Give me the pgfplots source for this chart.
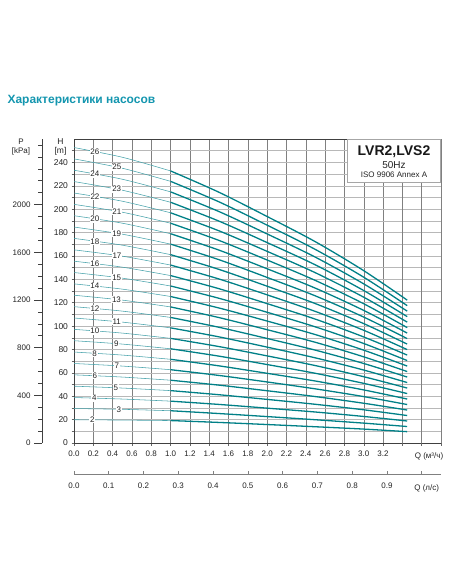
\documentclass[border=0pt]{standalone}
\usepackage{fontspec}
\setmainfont{Liberation Sans}
\usepackage{pgfplots}
\pgfplotsset{compat=1.18}
\usepackage{pgfplotstable}

\definecolor{titlecol}{RGB}{20,150,175}
\definecolor{curve}{RGB}{0,128,135}
\definecolor{curvethin}{RGB}{70,162,170}
\definecolor{txt}{RGB}{35,35,35}
\newcommand\fs[1]{\fontsize{#1}{#1}\selectfont}

% H [m] for each number of stages
\pgfplotstableread{
Q    s2   s3   s4   s5   s6   s7   s8   s9   s10   s11   s12   s13   s14   s15   s16   s17   s18   s19   s20   s21   s22   s23   s24   s25   s26
0    19.9 29.5 38.9 48.6 58.3 68.0 77.8 87.5 97.2  106.9 116.6 126.4 136.1 145.8 155.5 165.2 175.0 184.7 194.4 204.1 213.8 223.6 233.3 243.0 252.7
0.5  19.6 28.8 37.6 47.0 56.4 65.8 75.2 84.6 94.0  103.4 112.8 122.2 131.6 141.0 150.4 159.8 169.2 178.6 188.0 197.4 206.8 216.2 225.6 235.0 244.4
1.0  19.2 27.6 35.8 44.8 53.7 62.7 71.6 80.6 89.5  98.5  107.4 116.4 125.3 134.3 143.2 152.2 161.1 170.1 179.0 188.0 196.9 205.9 214.8 223.8 232.7
1.5  17.6 25.2 33.0 41.3 49.5 57.8 66.0 74.3 82.5  90.8  99.0  107.3 115.5 123.8 132.0 140.3 148.5 156.8 165.0 173.3 181.5 189.8 198.0 206.3 214.5
2.0  15.8 22.6 29.8 37.3 44.7 52.2 59.6 67.1 74.5  82.0  89.4  96.9  104.3 111.8 119.2 126.7 134.1 141.6 149.0 156.5 163.9 171.4 178.8 186.3 193.7
2.5  13.9 19.9 26.5 33.1 39.7 46.3 53.0 59.6 66.2  72.8  79.4  86.1  92.7  99.3  105.9 112.5 119.2 125.8 132.4 139.0 145.6 152.3 158.9 165.5 172.1
3.0  11.9 17.0 22.7 28.4 34.0 39.7 45.4 51.0 56.7  62.4  68.0  73.7  79.4  85.1  90.7  96.4  102.1 107.7 113.4 119.1 124.7 130.4 136.1 141.8 147.4
3.45 9.7  14.1 18.8 23.5 28.2 32.9 37.6 42.3 47.0  51.7  56.4  61.1  65.8  70.5  75.2  79.9  84.6  89.3  94.0  98.7  103.4 108.1 112.8 117.5 122.2
}\curves

\begin{document}
\begin{tikzpicture}
\useasboundingbox (0pt,0pt) rectangle (452pt,-584pt);

\node[anchor=base west, font=\bfseries\fs{12}, text=titlecol] at (4pt,-103.5pt) {Характеристики насосов};

% pressure scale
\begin{axis}[
    at={(42pt,-443pt)}, anchor=south west, scale only axis,
    width=20pt, height=304pt,
    xmin=0, xmax=1, ymin=0, ymax=2550.6,
    hide x axis, axis y line*=left,
    axis line style={-, draw=black!75, line width=0.7pt},
    ytick={0,400,...,2000}, minor ytick={100,200,...,2500},
    tick align=outside, major tick length=8pt, minor tick length=4pt,
    tick style={draw=black!75, line width=0.6pt},
    scaled y ticks=false,
    yticklabel style={font=\fs{8}, text=txt, /pgf/number format/1000 sep={},
        /pgf/number format/assume math mode=true},
]
\addplot[draw=none] coordinates {(0,0)};
\end{axis}

% flow in l/s
\begin{axis}[
    at={(74pt,-474pt)}, anchor=south west, scale only axis,
    width=367pt, height=10pt,
    xmin=0, xmax=1.055556, ymin=0, ymax=1,
    hide y axis, axis x line*=bottom,
    axis line style={-, draw=black!50, line width=0.7pt},
    xtick={0,0.1,...,0.9}, extra x ticks={1.0}, extra x tick labels={},
    tick align=inside, major tick length=3.5pt,
    tick style={draw=black!50, line width=0.6pt},
    xticklabel style={font=\fs{8}, text=txt, yshift=-5pt,
        /pgf/number format/fixed, /pgf/number format/fixed zerofill,
        /pgf/number format/precision=1, /pgf/number format/assume math mode=true},
]
\addplot[draw=none] coordinates {(0,0)};
\end{axis}

% main chart
\begin{axis}[
    at={(74pt,-443pt)}, anchor=south west, scale only axis,
    width=367pt, height=304pt,
    xmin=0, xmax=3.8, ymin=0, ymax=260,
    xtick={0,0.2,0.4,0.6,0.8,1.0,1.2,1.4,1.6,1.8,2.0,2.2,2.4,2.6,2.8,3.0,3.2},
    extra x ticks={3.4,3.6,3.8}, extra x tick labels={},
    extra x tick style={grid=major},
    ytick={0,20,...,240}, minor ytick={10,30,...,250},
    grid=both,
    major x grid style={draw=black!50, line width=0.45pt},
    major y grid style={draw=black!28, line width=0.45pt},
    minor y grid style={draw=black!28, line width=0.45pt},
    axis line style={draw=black!75, line width=0.8pt},
    tick pos=left, tick align=outside,
    major tick length=2.5pt, minor tick length=2.5pt,
    tick style={draw=black!60, line width=0.4pt},
    xticklabel style={font=\fs{8}, text=txt, yshift=-2pt,
        /pgf/number format/fixed, /pgf/number format/fixed zerofill,
        /pgf/number format/precision=1, /pgf/number format/assume math mode=true},
    yticklabel style={font=\fs{8.5}, text=txt, /pgf/number format/assume math mode=true},
]
\pgfplotsinvokeforeach{2,4,...,26}{
  \addplot[curvethin, line width=0.55pt, smooth, restrict x to domain=0:1.001]
    table[x=Q, y=s#1] {\curves}
    node[pos=0.18, fill=white, inner sep=0.8pt, font=\fs{8}, text=txt] {#1};
  \addplot[curve, line width=1.3pt, smooth, restrict x to domain=0.999:3.5]
    table[x=Q, y=s#1] {\curves};
}
\pgfplotsinvokeforeach{3,5,...,25}{
  \addplot[curvethin, line width=0.55pt, smooth, restrict x to domain=0:1.001]
    table[x=Q, y=s#1] {\curves}
    node[pos=0.37, fill=white, inner sep=0.8pt, font=\fs{8}, text=txt] {#1};
  \addplot[curve, line width=1.3pt, smooth, restrict x to domain=0.999:3.5]
    table[x=Q, y=s#1] {\curves};
}
\end{axis}

% model box
\draw[fill=white, draw=black!35, line width=0.5pt] (347pt,-139.5pt) rectangle (440.5pt,-182pt);
\node[font=\bfseries\fs{14}, text=black!90] at (394pt,-151.5pt) {LVR2,LVS2};
\node[font=\fs{10}, text=txt] at (394pt,-165pt) {50Hz};
\node[font=\fs{8}, text=txt] at (394pt,-174.5pt) {ISO 9906 Annex A};

% axis captions
\node[font=\fs{8.5}, text=txt] at (60.5pt,-141.7pt) {H};
\node[font=\fs{8.5}, text=txt] at (60.5pt,-151pt) {[m]};
\node[font=\fs{8}, text=txt] at (21pt,-141.7pt) {P};
\node[font=\fs{8}, text=txt] at (21pt,-151pt) {[kPa]};
\node[font=\fs{8}, text=txt] at (429pt,-456.7pt) {Q (м³/ч)};
\node[font=\fs{8}, text=txt] at (426.7pt,-488.3pt) {Q (л/с)};
\end{tikzpicture}
\end{document}
